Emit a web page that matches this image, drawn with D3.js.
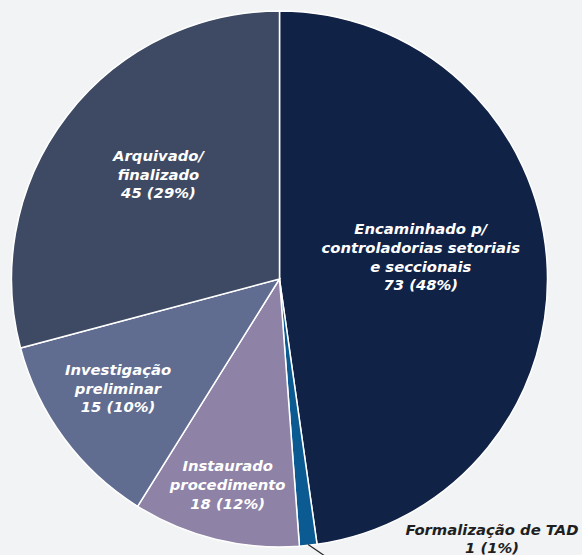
<!DOCTYPE html>
<html>
<head>
<meta charset="utf-8">
<script src="https://cdn.jsdelivr.net/npm/d3@7"></script>
<style>
  body { margin: 0; background: #f2f3f5; }
  text { font-family: "DejaVu Sans", sans-serif; font-weight: 700; font-style: italic; }
</style>
</head>
<body>
<svg id="chart"></svg>
<script>
// data
const categories = ["Encaminhado p/ controladorias setoriais e seccionais", "Formalização de TAD", "Instaurado procedimento", "Investigação preliminar", "Arquivado/ finalizado"];
// printed counts and shares
const counts = [73, 1, 18, 15, 45];
const percents = ["48%", "1%", "12%", "10%", "29%"];
// slice sizes as drawn in the picture (angles)
const sliceShares = [72.6, 1.6, 15.3, 18.2, 44.3];
const labelLines = [
    ["Encaminhado p/", "controladorias setoriais", "e seccionais"],
    ["Formalização de TAD"],
    ["Instaurado", "procedimento"],
    ["Investigação", "preliminar"],
    ["Arquivado/", "finalizado"]
];
const colors = ["#112247", "#0b5a91", "#8e82a6", "#616d90", "#3e4a63"];

const width = 582, height = 555;
const cx = 279.5, cy = 279, radius = 268;
// label placement: distance from centre and angle nudge (degrees)
const labelRadius = [143, 0, 212, 195, 160];
const labelShift = [-4.9, 0, 0.3, 2.4, 3.3];

const svg = d3.select("#chart")
    .attr("width", width)
    .attr("height", height);

const g = svg.append("g")
    .attr("transform", "translate(" + cx + "," + cy + ")");

const pie = d3.pie().sort(null).value(d => d)(sliceShares);
const arc = d3.arc().innerRadius(0).outerRadius(radius);

g.selectAll("path.slice")
    .data(pie)
    .enter().append("path")
    .attr("class", "slice")
    .attr("d", arc)
    .attr("fill", (d, i) => colors[i])
    .attr("stroke", "#ffffff")
    .attr("stroke-width", 1.5);

const lineH = 18.6;
pie.forEach(function(d, i) {
    if (i === 1) return;
    const a = (d.startAngle + d.endAngle) / 2 + labelShift[i] * Math.PI / 180;
    const r = labelRadius[i];
    const pos = [Math.sin(a) * r, -Math.cos(a) * r];
    const lines = labelLines[i].concat([counts[i] + " (" + percents[i] + ")"]);
    const t = g.append("text")
        .attr("text-anchor", "middle")
        .attr("fill", "#ffffff")
        .attr("font-size", 14.8);
    lines.forEach(function(s, k) {
        t.append("tspan")
            .attr("x", pos[0])
            .attr("y", pos[1] + (k - (lines.length - 1) / 2) * lineH + 5.5)
            .text(s);
    });
});

// small slice: outside label with leader line
const small = pie[1];
const mid = (small.startAngle + small.endAngle) / 2;
const p0 = [Math.sin(mid) * (radius - 1), -Math.cos(mid) * (radius - 1)];
const p1 = [p0[0] + 16, p0[1] + 11];
g.append("line")
    .attr("x1", p0[0]).attr("y1", p0[1])
    .attr("x2", p1[0]).attr("y2", p1[1])
    .attr("stroke", "#222222")
    .attr("stroke-width", 1.2);

const st = svg.append("text")
    .attr("text-anchor", "middle")
    .attr("fill", "#1f1f1f")
    .attr("font-size", 14.8);
[labelLines[1][0], counts[1] + " (" + percents[1] + ")"].forEach(function(s, k) {
    st.append("tspan")
        .attr("x", 492)
        .attr("y", 535 + k * 17.5)
        .text(s);
});
</script>
</body>
</html>
